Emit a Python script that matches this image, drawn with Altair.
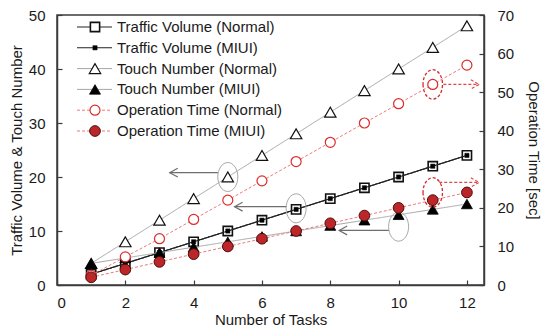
import altair as alt
import pandas as pd

# ---------------- data ----------------
tasks = [1, 2, 3, 4, 5, 6, 7, 8, 9, 10, 11, 12]
traffic_normal = [2, 4, 6, 8, 10, 12, 14, 16, 18, 20, 22, 24]
traffic_miui = [2, 4, 6, 8, 10, 12, 14, 16, 18, 20, 22, 24]
touch_normal = [4, 8, 12, 16, 20, 24, 28, 32, 36, 40, 44, 48]
touch_miui = [4, 5, 6, 7, 8, 9, 10, 11, 12, 13, 14, 15]
op_normal = [2.5, 7.3, 12, 17, 22, 27, 32, 37, 42, 47, 52, 57]
op_miui = [2, 4, 6, 8, 10, 12, 14, 16, 18, 20, 22, 24]

series_names = [
    "Traffic Volume (Normal)",
    "Traffic Volume (MIUI)",
    "Touch Number (Normal)",
    "Touch Number (MIUI)",
    "Operation Time (Normal)",
    "Operation Time (MIUI)",
]

x_ticks = [0, 2, 4, 6, 8, 10, 12]
left_ticks = [0, 10, 20, 30, 40, 50]
right_ticks = [0, 10, 20, 30, 40, 50, 60, 70]

# annotations (data coordinates)
gray_ell_task = [5, 7, 10]
gray_ell_value = [20, 14.2, 10.8]
gray_arrow_from = [4.71, 6.71, 9.71]
gray_arrow_to = [3.3, 5.2, 8.26]
gray_arrow_value = [20.8, 14.5, 10.1]
red_ell_task = [11, 11]
red_ell_value = [52, 24]
red_arrow_from = [11.31, 11.19]
red_arrow_to = [12.36, 12.36]
red_arrow_value = [52, 26.6]

# ---------------- styling ----------------
FONT = "Liberation Sans"
TXT = "#1a1a1a"
FRAME = "#3c3c3c"
RED_LINE = "#ee7a7a"
RED_OPEN = "#dd2a2a"
RED_FILL = "#bd2629"
ELLIPSE_G = "M-0.69,0A0.69,1 0 1,0 0.69,0A0.69,1 0 1,0 -0.69,0Z"
ELLIPSE_R = "M-0.66,0A0.66,1 0 1,0 0.66,0A0.66,1 0 1,0 -0.66,0Z"
CHEV_LEFT = "M2,-1.1L0,0L2,1.1"
CHEV_RIGHT = "M-2,-1.1L0,0L-2,1.1"

X_SCALE = alt.Scale(domain=[0, 12.5], nice=False, zero=False)
L_SCALE = alt.Scale(domain=[0, 50], nice=False)
R_SCALE = alt.Scale(domain=[0, 70], nice=False)

x_axis = alt.Axis(values=x_ticks, title="Number of Tasks", grid=False,
                  tickSize=alt.ExprRef(expr="-5"), labelPadding=15,
                  titlePadding=2, format="d")
left_axis = alt.Axis(values=left_ticks, title="Traffic Volume & Touch Number",
                     grid=False, tickSize=alt.ExprRef(expr="-5"),
                     labelPadding=17, titlePadding=4, format="d")
right_axis = alt.Axis(values=right_ticks, title="Operation Time [sec]", orient="right",
                      grid=False, tickSize=alt.ExprRef(expr="-5"),
                      labelPadding=18, titlePadding=12, format="d")


def xenc():
    return alt.X("task:Q", scale=X_SCALE, axis=x_axis)


def yenc(side):
    if side == "left":
        return alt.Y("value:Q", scale=L_SCALE, axis=left_axis)
    return alt.Y("value:Q", scale=R_SCALE, axis=right_axis)


def frame(vals):
    return pd.DataFrame({"task": tasks, "value": vals})


styles = [
    dict(side="left", vals=traffic_normal, line="#222222", dash=[1, 0], lw=1.1,
         pt=dict(shape="square", size=85, filled=True, fill="white", stroke="#111111", strokeWidth=1.6)),
    dict(side="left", vals=traffic_miui, line="#222222", dash=[1, 0], lw=1.1,
         pt=dict(shape="square", size=18, filled=True, fill="#000000", stroke="#000000", strokeWidth=0.5)),
    dict(side="left", vals=touch_normal, line="#a6a6a6", dash=[1, 0], lw=1.0,
         pt=dict(shape="triangle-up", size=130, filled=True, fill="white", stroke="#111111", strokeWidth=1.2)),
    dict(side="left", vals=touch_miui, line="#a6a6a6", dash=[1, 0], lw=1.0,
         pt=dict(shape="triangle-up", size=120, filled=True, fill="#000000", stroke="#000000", strokeWidth=0.8)),
    dict(side="right", vals=op_normal, line=RED_LINE, dash=[3, 2], lw=1.0,
         pt=dict(shape="circle", size=100, filled=True, fill="white", stroke=RED_OPEN, strokeWidth=1.2)),
    dict(side="right", vals=op_miui, line=RED_LINE, dash=[3, 2], lw=1.0,
         pt=dict(shape="circle", size=115, filled=True, fill=RED_FILL, stroke="#4a0d0d", strokeWidth=1.0)),
]

left_layers = []
right_layers = []
for st in styles:
    df = frame(st["vals"])
    ln = alt.Chart(df).mark_line(color=st["line"], strokeWidth=st["lw"],
                                 strokeDash=st["dash"]).encode(x=xenc(), y=yenc(st["side"]))
    pt = alt.Chart(df).mark_point(opacity=1, **st["pt"]).encode(x=xenc(), y=yenc(st["side"]))
    (left_layers if st["side"] == "left" else right_layers).extend([ln, pt])

# gray annotations (left scale)
gray_ell = pd.DataFrame({"task": gray_ell_task, "value": gray_ell_value})
gray_arr = pd.DataFrame({"task": gray_arrow_from, "task2": gray_arrow_to, "value": gray_arrow_value})
gray_tip = pd.DataFrame({"task": gray_arrow_to, "value": gray_arrow_value})
left_layers += [
    alt.Chart(gray_ell).mark_point(shape=ELLIPSE_G, size=841, filled=False, stroke="#a8a8a8",
                                   strokeWidth=1, opacity=1).encode(x=xenc(), y=yenc("left")),
    alt.Chart(gray_arr).mark_rule(color="#6e6e6e", strokeWidth=1.3).encode(
        x=xenc(), x2="task2:Q", y=yenc("left")),
    alt.Chart(gray_tip).mark_point(shape=CHEV_LEFT, size=64, filled=False, stroke="#6e6e6e",
                                   strokeWidth=1.2, opacity=1).encode(x=xenc(), y=yenc("left")),
]

# red annotations (right scale)
red_ell = pd.DataFrame({"task": red_ell_task, "value": red_ell_value})
red_arr = pd.DataFrame({"task": red_arrow_from, "task2": red_arrow_to, "value": red_arrow_value})
red_tip = pd.DataFrame({"task": red_arrow_to, "value": red_arrow_value})
right_layers += [
    alt.Chart(red_ell).mark_point(shape=ELLIPSE_R, size=870, filled=False, stroke="#d42a2a",
                                  strokeWidth=1.3, strokeDash=[3, 2], opacity=1).encode(x=xenc(), y=yenc("right")),
    alt.Chart(red_arr).mark_rule(color="#e04848", strokeWidth=1.2, strokeDash=[3, 2]).encode(
        x=xenc(), x2="task2:Q", y=yenc("right")),
    alt.Chart(red_tip).mark_point(shape=CHEV_RIGHT, size=70, filled=False, stroke="#e04848",
                                  strokeWidth=1.1, strokeDash=[3, 2], opacity=1).encode(x=xenc(), y=yenc("right")),
]

# legend (inside plot, upper left)
LEG_SCALE = alt.Scale(type="point", domain=series_names, range=[12, 116], padding=0)
legend_layers = []
for name, st in zip(series_names, styles):
    d = pd.DataFrame({"name": [name]})
    yl = alt.Y("name:N", scale=LEG_SCALE, axis=None)
    legend_layers.append(alt.Chart(d).mark_rule(color=st["line"], strokeWidth=st["lw"],
                                                strokeDash=st["dash"]).encode(
        x=alt.value(20), x2=alt.value(55), y=yl))
    legend_layers.append(alt.Chart(d).mark_point(opacity=1, **st["pt"]).encode(x=alt.value(38), y=yl))
    legend_layers.append(alt.Chart(d).mark_text(align="left", baseline="middle", fontSize=15,
                                                font=FONT, color=TXT).encode(
        x=alt.value(60), y=yl, text="name:N"))

chart = alt.layer(
    alt.layer(*left_layers),
    alt.layer(*right_layers),
    alt.layer(*legend_layers),
).resolve_scale(y="independent").properties(
    width=427, height=270, autosize="none",
    padding={"left": 49, "top": 7, "right": 58, "bottom": 43},
).configure(font=FONT).configure_axis(
    labelFont=FONT, titleFont=FONT, labelFontSize=15, titleFontSize=15,
    labelColor=TXT, titleColor=TXT, titleFontWeight="normal",
    domainColor=FRAME, domainWidth=1.5, tickColor=FRAME, tickWidth=1.2,
).configure_view(stroke=FRAME, strokeWidth=1.5)

chart.save("out.html", embed_options={"renderer": "svg", "actions": False})
